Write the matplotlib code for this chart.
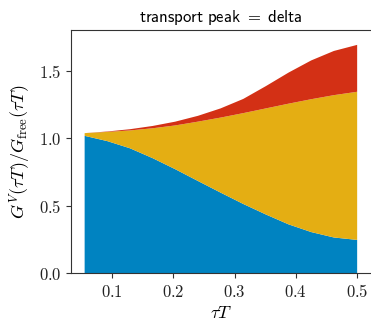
import matplotlib
matplotlib.use("Agg")
import matplotlib.pyplot as plt

plt.rcParams['mathtext.fontset'] = 'cm'
plt.rcParams['font.size'] = 11

tauT = [0.055, 0.092, 0.129, 0.166, 0.203, 0.240, 0.277, 0.314, 0.351, 0.388, 0.425, 0.462, 0.500]
blue_part = [1.017, 0.978, 0.925, 0.852, 0.770, 0.683, 0.597, 0.513, 0.435, 0.362, 0.305, 0.265, 0.247]
yellow_part = [0.020, 0.068, 0.132, 0.221, 0.324, 0.439, 0.555, 0.672, 0.785, 0.893, 0.983, 1.053, 1.096]
red_part = [0.000, 0.003, 0.009, 0.017, 0.028, 0.043, 0.068, 0.105, 0.165, 0.230, 0.287, 0.327, 0.347]

xticks = [0.1, 0.2, 0.3, 0.4, 0.5]
yticks = [0.0, 0.5, 1.0, 1.5]
colors = ['#0083C1', '#E4AE13', '#D33015']

fig = plt.figure(figsize=(3.71, 3.23), dpi=100)
ax = fig.add_axes([0.1914, 0.1539, 0.808, 0.7532])
ax.stackplot(tauT, blue_part, yellow_part, red_part, colors=colors, linewidth=0)
ax.set_ylim(0, 1.8)
ax.set_xticks(xticks)
ax.set_xticklabels([f'${t:.1f}$' for t in xticks])
ax.set_yticks(yticks)
ax.set_yticklabels([f'${t:.1f}$' for t in yticks])
ax.spines['right'].set_visible(False)
for s in ['left', 'bottom', 'top']:
    ax.spines[s].set_color('#333333')
ax.tick_params(colors='#333333', labelcolor='#222222', labelsize=12)
ax.set_xlabel(r'$\tau T$', fontsize=13, labelpad=2)
ax.set_ylabel(r'$G^V(\tau T)/G_{\rm free}(\tau T)$', fontsize=13, labelpad=4)
ax.set_title(r'$\mathsf{transport\ peak}\ =\ \mathsf{delta}$', fontsize=12, pad=6)
fig.savefig('out.png', dpi=100)
